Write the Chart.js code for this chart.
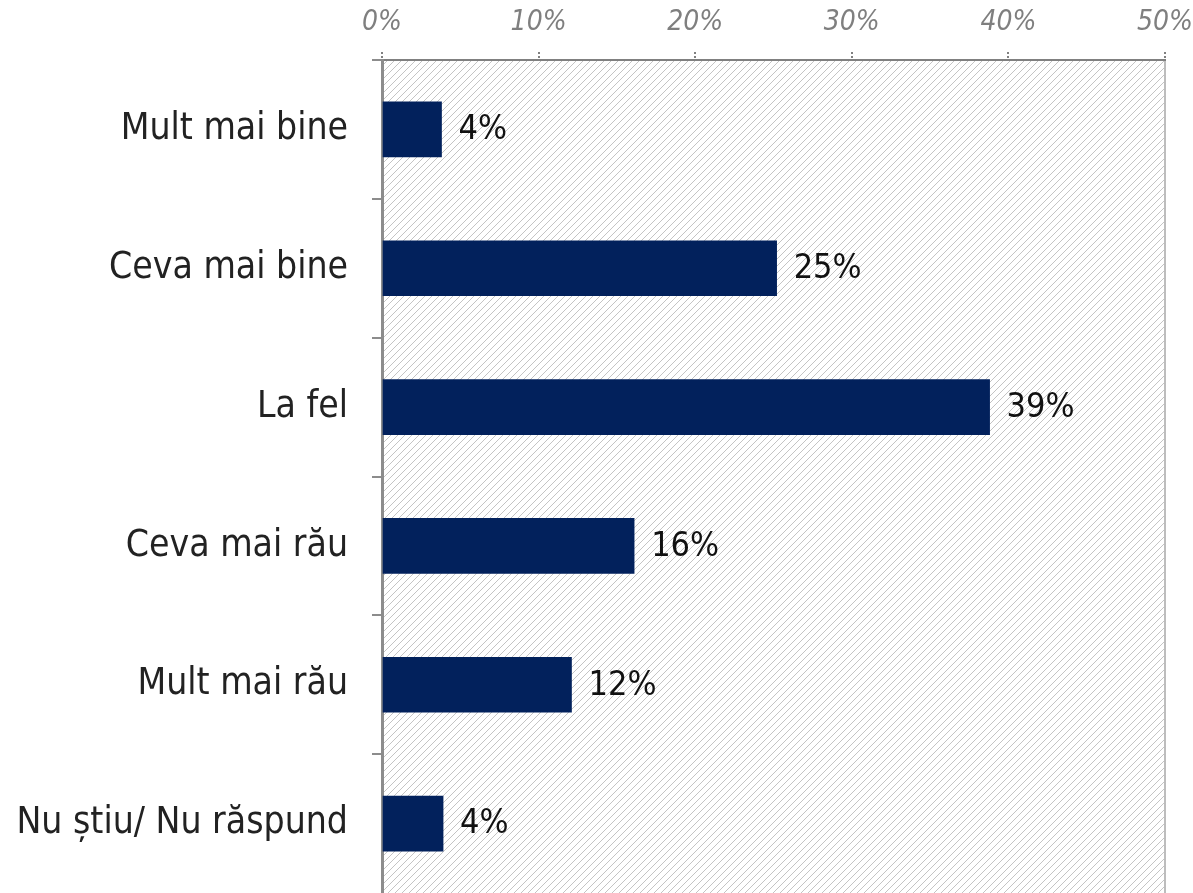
<!DOCTYPE html>
<html>
<head>
<meta charset="utf-8">
<script src="https://cdn.jsdelivr.net/npm/chart.js@4.4.1/dist/chart.umd.min.js"></script>
<style>
  html, body { margin: 0; padding: 0; background: #fff; }
  canvas { display: block; }
</style>
</head>
<body>
<canvas id="chart" width="1193" height="893"></canvas>
<script>
// Chart data
const categories = ['Mult mai bine', 'Ceva mai bine', 'La fel', 'Ceva mai rău', 'Mult mai rău', 'Nu știu/ Nu răspund'];
const shares = [3.8, 25.2, 38.8, 16.1, 12.1, 3.9];
const axisTicks = [0, 10, 20, 30, 40, 50];

const labelFont = "'DejaVu Sans Condensed', 'DejaVu Sans', sans-serif";

// Hatched plot background
function makeHatch() {
    const s = 7;
    const c = document.createElement('canvas');
    c.width = s;
    c.height = s;
    const g = c.getContext('2d');
    g.strokeStyle = '#c4c4c4';
    g.lineWidth = 1;
    g.beginPath();
    g.moveTo(0, s); g.lineTo(s, 0);
    g.moveTo(-2, 2); g.lineTo(2, -2);
    g.moveTo(s - 2, s + 2); g.lineTo(s + 2, s - 2);
    g.stroke();
    return c;
}

const hatchPlugin = {
    id: 'hatch',
    beforeDraw(chart) {
        const { ctx, chartArea: a } = chart;
        ctx.save();
        ctx.fillStyle = ctx.createPattern(makeHatch(), 'repeat');
        ctx.fillRect(a.left, a.top, a.right - a.left, a.bottom - a.top);
        ctx.strokeStyle = '#bdbdbd';
        ctx.lineWidth = 2;
        ctx.beginPath();
        ctx.moveTo(a.right, a.top);
        ctx.lineTo(a.right, a.bottom);
        ctx.stroke();
        ctx.restore();
    }
};

// Value labels to the right of each bar
const valueLabels = {
    id: 'valueLabels',
    afterDatasetsDraw(chart) {
        const { ctx } = chart;
        const meta = chart.getDatasetMeta(0);
        ctx.save();
        ctx.fillStyle = '#111';
        ctx.font = '34px ' + labelFont;
        ctx.textAlign = 'left';
        ctx.textBaseline = 'middle';
        meta.data.forEach((bar, i) => {
            ctx.fillText(Math.round(shares[i]) + '%', bar.x + 17, bar.y + 1);
        });
        ctx.restore();
    }
};

const ctx = document.getElementById('chart').getContext('2d');

new Chart(ctx, {
    type: 'bar',
    data: {
        labels: categories,
        datasets: [{
            data: shares,
            backgroundColor: '#02215c',
            barThickness: 55
        }]
    },
    options: {
        indexAxis: 'y',
        responsive: false,
        animation: false,
        devicePixelRatio: 1,
        layout: { padding: { left: 0, right: 28, top: 0, bottom: 0 } },
        plugins: {
            legend: { display: false },
            tooltip: { enabled: false }
        },
        scales: {
            x: {
                position: 'top',
                min: 0,
                max: 50,
                afterBuildTicks(scale) {
                    scale.ticks = axisTicks.map(v => ({ value: v }));
                },
                afterFit(scale) {
                    scale.height = 60;
                    scale.paddingLeft = 0;
                    scale.paddingRight = 0;
                },
                ticks: {
                    callback: v => v + '%',
                    color: '#7f7f7f',
                    font: { family: labelFont, size: 28, style: 'italic' },
                    padding: 12,
                    maxRotation: 0
                },
                grid: {
                    drawOnChartArea: false,
                    tickLength: 8,
                    tickBorderDash: [2, 2],
                    color: '#808080',
                    lineWidth: 2
                },
                border: { display: true, color: '#808080', width: 2, dash: [2, 2] }
            },
            y: {
                afterFit(scale) {
                    scale.width = 382;
                    scale.paddingTop = 0;
                    scale.paddingBottom = 0;
                },
                ticks: {
                    color: '#222',
                    font: { family: labelFont, size: 37 },
                    padding: 24
                },
                grid: {
                    offset: true,
                    drawOnChartArea: false,
                    tickLength: 10,
                    // the plot runs off the bottom edge, so no closing tick there
                    color: c => c.type === 'tick' ? '#8c8c8c' : 'rgba(0,0,0,0)',
                    lineWidth: 2
                },
                border: { display: true, color: '#8c8c8c', width: 3 }
            }
        }
    },
    plugins: [hatchPlugin, valueLabels]
});
</script>
</body>
</html>
